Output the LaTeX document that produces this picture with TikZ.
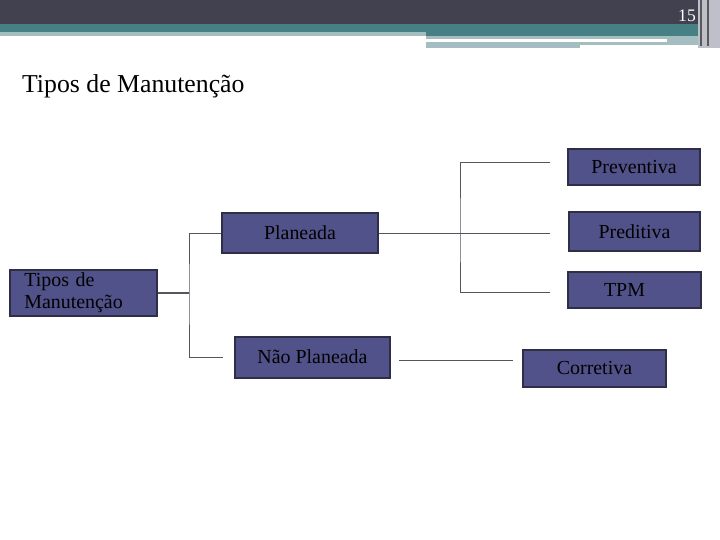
\documentclass[tikz,border=0pt]{standalone}
\usepackage{fontspec}
\setmainfont{Liberation Serif}
\definecolor{hdark}{HTML}{41414F}
\definecolor{hteal}{HTML}{467F84}
\definecolor{hlight}{HTML}{A4BDC0}
\definecolor{hgray}{HTML}{BDC0C8}
\definecolor{boxfill}{HTML}{52528A}
\definecolor{boxline}{HTML}{2E2E46}
\definecolor{linkgray}{HTML}{55555E}

\begin{document}
\begin{tikzpicture}[x=0.03cm, y=-0.03cm,
    box/.style={draw=boxline, fill=boxfill, line width=2pt, inner sep=2pt, font=\fontsize{17}{18.7}\selectfont},
    link/.style={draw=linkgray, line width=0.8pt}]
  \useasboundingbox (0,0) rectangle (720,540);
  % header
  \fill[hdark] (0,0) rectangle (720,24);
  \fill[hteal] (0,24) rectangle (720,32);
  \fill[hlight] (0,32) rectangle (426,36);
  \fill[hteal] (426,32) rectangle (700,36);
  \fill[hlight] (426,36) rectangle (700,39);
  \fill[hlight] (667,39) rectangle (700,42);
  \fill[hlight] (426,42) rectangle (700,45);
  \fill[hlight] (426,45) rectangle (580,48);
  \fill[hgray] (698,0) rectangle (720,48);
  \foreach \x in {700, 707} {
    \fill[gray!70!black] (\x,0) rectangle (\x+2,46);
  }
  \node[text=white, font=\fontsize{15}{15}\selectfont] (page) at (687,16) {15};
  \node[anchor=base west, font=\fontsize{22}{26}\selectfont] (title) at (18,93) {Tipos de Manutenção};

  % boxes
  \node[box, minimum width=4.41cm, minimum height=1.38cm, text width=3.55cm, align=left] (tipos) at (83.5,293) {\raisebox{-3pt}{Tipos de}\\\raisebox{-3pt}{Manutenção}};
  \node[box, minimum width=4.68cm, minimum height=1.2cm] (plan) at (300,233) {Planeada};
  \node[box, minimum width=4.65cm, minimum height=1.23cm] (nplan) at (312.5,357.5) {\raisebox{1.5pt}{Não Planeada}};
  \node[box, minimum width=3.96cm, minimum height=1.08cm] (prev) at (634,167) {Preventiva};
  \node[box, minimum width=3.93cm, minimum height=1.17cm] (pred) at (634.5,231.5) {Preditiva};
  \node[box, minimum width=3.99cm, minimum height=1.08cm] (tpm) at (634.5,290) {\hspace*{-0.6cm}TPM};
  \node[box, minimum width=4.29cm, minimum height=1.11cm] (corr) at (594.5,368.5) {Corretiva};

  % links
  \coordinate (j1) at (189,293);
  \coordinate (e1) at (223,357.5);
  \coordinate (j2) at (460,233);
  \coordinate (e2) at (550,162);
  \coordinate (e3) at (550,233);
  \coordinate (e4) at (550,292);
  \coordinate (e5) at (399,360);
  \coordinate (e6) at (513,360);
  \draw[link, line width=1.6pt] (tipos.east) -- (j1);
  \draw[link] (plan.west) -| (j1) |- (e1);
  \draw[link] (plan.east) -- (e3);
  \draw[link] (e2) -| (j2) |- (e4);
  \draw[link] (e5) -- (e6);
\end{tikzpicture}
\end{document}
